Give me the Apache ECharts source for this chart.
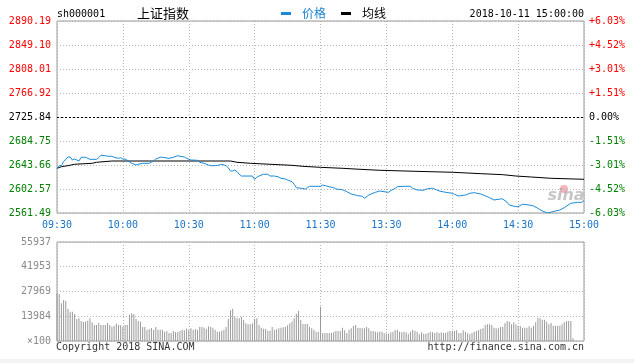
<!DOCTYPE html>
<html><head><meta charset="utf-8">
<script src="https://cdn.jsdelivr.net/npm/echarts@6.0.0/dist/echarts.min.js"></script>
<style>html,body{margin:0;padding:0;background:#fff}#c{width:634px;height:363px}</style>
</head><body><div id="c"></div>
<script>
const timeLabels = ['09:30','10:00','10:30','11:00','11:30','13:30','14:00','14:30','15:00'];
const priceTicks = [2561.49,2602.57,2643.66,2684.75,2725.84,2766.92,2808.01,2849.10,2890.19];
const pctLabels = ['-6.03%','-4.52%','-3.01%','-1.51%','0.00%','+1.51%','+3.01%','+4.52%','+6.03%'];
const preClose = 2725.84;
const volTicks = [0,13984,27969,41953,55937];
const volTickLabels = ['×100','13984','27969','41953','55937'];

const priceMinutes = [0,1,2,3,5,6,7,8,10,11,13,15,18,19,20,22,23,25,26,28,29,30,31,32,34,36,37,39,42,43,44,45,47,48,51,53,55,56,58,59,61,64,65,67,69,70,72,74,75,77,78,79,80,81,82,83,84,87,89,90,91,92,94,96,97,99,101,102,104,105,107,108,109,111,112,113,114,115,120,121,124,126,127,130,132,134,137,139,140,142,143,145,147,149,151,152,154,155,158,161,162,164,167,168,170,171,173,174,177,180,181,183,186,188,190,193,195,197,199,202,203,205,206,209,210,212,215,217,219,221,223,224,227,229,231,234,237,239,240];
const priceValues = [2636.8,2642.5,2642.5,2649.3,2657.4,2657.4,2652.2,2653.9,2650.5,2656.9,2656.9,2653.4,2653.4,2656.2,2660.3,2659.6,2658.6,2658.6,2656.9,2655.1,2656.2,2653.9,2653.9,2651.7,2646.6,2643.7,2644.9,2646.6,2646.6,2648.3,2650.5,2653.9,2656.9,2656.9,2655.1,2656.9,2659.6,2658.6,2657.4,2655.1,2652.2,2651.7,2648.3,2646.6,2643.7,2642.5,2642.5,2643.7,2644.9,2642.5,2639.1,2633.4,2633.4,2635.1,2632.2,2627.8,2624.8,2624.8,2624.8,2619.2,2622.6,2624.8,2627.8,2627.8,2624.8,2624.8,2623.1,2620.9,2619.7,2618.0,2615.1,2610.6,2604.8,2603.8,2603.8,2602.1,2604.8,2607.2,2607.2,2609.4,2606.5,2604.8,2602.6,2601.4,2598.0,2594.0,2591.1,2590.1,2586.7,2592.3,2594.0,2596.9,2599.2,2598.0,2596.9,2599.7,2603.8,2606.5,2607.2,2607.2,2603.8,2600.9,2600.4,2602.1,2603.8,2603.8,2600.9,2599.2,2596.9,2595.2,2593.5,2590.6,2592.3,2595.2,2596.3,2594.0,2591.1,2587.7,2583.8,2585.5,2585.5,2579.8,2575.2,2572.3,2572.3,2576.4,2575.2,2573.5,2569.5,2564.9,2562.0,2562.0,2564.9,2566.6,2570.6,2578.1,2579.8,2579.8,2582.9];

const avgMinutes = [0,2,5,8,16,18,25,79,82,88,97,107,112,120,130,138,147,163,180,193,203,209,216,225,240];
const avgValues = [2638.0,2640.8,2642.5,2644.9,2646.6,2648.3,2650.5,2650.5,2648.3,2646.6,2644.9,2643.1,2641.4,2639.7,2638.0,2636.3,2634.6,2632.9,2631.2,2628.8,2627.1,2624.8,2623.1,2620.9,2619.2];

const volumeValues = [27000,
26550,21280,23160,22600,18080,16570,16570,15250,12430,12800,11300,10730,10920,11490,12800,10540,9040,9040,10170,9040,
9040,9040,10170,9040,8100,8660,9790,9040,8850,8100,9040,9040,14880,15630,15250,12430,11300,10920,7910,7910,
6210,6780,7340,6210,7910,6400,6400,6400,5270,5650,4520,4520,5650,5080,5080,5650,6400,6030,6970,6400,
7160,6210,6780,6210,7910,7910,7530,6780,8290,7910,7530,6400,5270,5270,5650,6400,7910,12430,17320,18270,
13750,12800,12800,13750,11860,9980,9420,9420,9980,12430,12800,9040,7530,6970,6780,5840,5840,7910,6210,6590,
7160,7530,7720,7910,8850,9980,10920,12800,15440,16950,11860,9600,9600,9600,7910,7160,6400,5270,5080,
19400,4520,4520,4520,4520,4520,4900,5650,5650,5650,7530,6030,4520,6400,7160,8470,9040,7530,7340,7160,
7160,7910,7160,5650,5650,5270,4900,5270,5270,4520,4140,4140,4900,5270,6210,6210,5270,4900,5270,4900,
4140,5270,6400,5650,5270,3770,4900,4140,4140,4520,5270,4900,4520,4900,4520,4900,4520,4520,5270,5650,
5650,5650,6030,4520,4520,6030,5270,4330,3770,4520,5270,5650,6210,6780,7160,9040,9420,9420,9040,7530,
7160,7160,7910,7910,9980,11300,10920,9420,10540,9420,8470,8470,7530,7530,7530,8290,7530,8660,10540,13180,
12800,12050,12050,10920,9420,10170,8660,8660,8660,8660,9420,10540,11300,11300,11300,1500];

const MONO = "'DejaVu Sans Mono', 'Liberation Mono', monospace";
const RED = '#ff0000', GREEN = '#008000', BLUE_LBL = '#1a74c6', LINE_BLUE = '#1a8ad6';
const GRID_LINE = {show: true, lineStyle: {color: '#b4b4b4', type: [1, 2], width: 1}};

function priceColor(v) {
  const n = parseFloat(v);
  if (Math.abs(n - preClose) < 0.01) return '#000';
  return n > preClose ? RED : GREEN;
}
function nearestIdx(arr, v) {
  let b = 0;
  for (let i = 1; i < arr.length; i++) if (Math.abs(arr[i] - v) < Math.abs(arr[b] - v)) b = i;
  return b;
}

const chart = echarts.init(document.getElementById('c'), null, {renderer: 'canvas'});
chart.setOption({
  animation: false,
  backgroundColor: '#fff',
  grid: [
    {left: 57, top: 21, width: 527, height: 192, show: true, borderColor: '#999', borderWidth: 1, backgroundColor: 'transparent'},
    {left: 57, top: 242, width: 527, height: 99, show: true, borderColor: '#999', borderWidth: 1, backgroundColor: 'transparent'}
  ],
  xAxis: [
    {type: 'value', gridIndex: 0, min: 0, max: 240, interval: 30,
     axisLine: {show: false}, axisTick: {show: false},
     axisLabel: {color: BLUE_LBL, fontFamily: MONO, fontSize: 10, margin: 7,
       formatter: v => timeLabels[Math.round(v / 30)]},
     splitLine: GRID_LINE},
    {type: 'value', gridIndex: 1, min: 0, max: 240, interval: 30,
     axisLine: {show: false}, axisTick: {show: false}, axisLabel: {show: false},
     splitLine: GRID_LINE}
  ],
  yAxis: [
    {type: 'value', gridIndex: 0, min: priceTicks[0], max: priceTicks[priceTicks.length - 1],
     axisLine: {show: false}, axisTick: {show: false, customValues: priceTicks},
     axisLabel: {customValues: priceTicks, fontFamily: MONO, fontSize: 10, margin: 6,
       formatter: v => priceTicks[nearestIdx(priceTicks, v)].toFixed(2),
       color: v => priceColor(v)},
     splitLine: GRID_LINE},
    {type: 'value', gridIndex: 0, position: 'right', min: priceTicks[0], max: priceTicks[priceTicks.length - 1],
     axisLine: {show: false}, axisTick: {show: false, customValues: priceTicks},
     axisLabel: {customValues: priceTicks, fontFamily: MONO, fontSize: 10, margin: 5,
       formatter: v => pctLabels[nearestIdx(priceTicks, v)],
       color: v => priceColor(v)},
     splitLine: {show: false}},
    {type: 'value', gridIndex: 1, min: 0, max: volTicks[volTicks.length - 1],
     axisLine: {show: false}, axisTick: {show: false, customValues: volTicks},
     axisLabel: {customValues: volTicks, fontFamily: MONO, fontSize: 10, margin: 6, color: '#8a8a8a',
       formatter: v => volTickLabels[nearestIdx(volTicks, v)]},
     splitLine: GRID_LINE}
  ],
  series: [
    {name: '价格', type: 'line', xAxisIndex: 0, yAxisIndex: 0, showSymbol: false, symbol: 'none',
     data: priceMinutes.map((m, i) => [m, priceValues[i]]),
     lineStyle: {color: LINE_BLUE, width: 1}, z: 5,
     markLine: {silent: true, symbol: 'none', label: {show: false},
       lineStyle: {color: '#000', type: [2, 2], width: 1}, data: [{yAxis: preClose}]}},
    {name: '均线', type: 'line', xAxisIndex: 0, yAxisIndex: 0, showSymbol: false, symbol: 'none',
     data: avgMinutes.map((m, i) => [m, avgValues[i]]),
     lineStyle: {color: '#000', width: 1}, z: 4},
    {name: '成交量', type: 'bar', xAxisIndex: 1, yAxisIndex: 2, barWidth: 1,
     data: volumeValues.map((v, i) => [i, v]),
     itemStyle: {color: '#9a9a9a'}}
  ],
  graphic: [
    {type: 'rect', shape: {x: 0, y: 359, width: 634, height: 4}, style: {fill: '#f3f3f3'}, silent: true},
    {type: 'text', style: {x: 57, y: 14, text: 'sh000001', font: '10px ' + MONO, fill: '#000', align: 'left', verticalAlign: 'middle'}},
    {type: 'text', style: {x: 137, y: 13, text: '上证指数', font: '13px "Noto Sans CJK SC"', fill: '#000', align: 'left', verticalAlign: 'middle'}},
    {type: 'rect', shape: {x: 281, y: 12, width: 10, height: 3}, style: {fill: LINE_BLUE}},
    {type: 'text', style: {x: 302, y: 13, text: '价格', font: '12px "Noto Sans CJK SC"', fill: '#1a80d0', align: 'left', verticalAlign: 'middle'}},
    {type: 'rect', shape: {x: 341, y: 12, width: 10, height: 3}, style: {fill: '#000'}},
    {type: 'text', style: {x: 362, y: 13, text: '均线', font: '12px "Noto Sans CJK SC"', fill: '#000', align: 'left', verticalAlign: 'middle'}},
    {type: 'text', style: {x: 584, y: 14, text: '2018-10-11 15:00:00', font: '10px ' + MONO, fill: '#000', align: 'right', verticalAlign: 'middle'}},
    {type: 'text', style: {x: 56, y: 347, text: 'Copyright 2018 SINA.COM', font: '10px ' + MONO, fill: '#333', align: 'left', verticalAlign: 'middle'}},
    {type: 'text', style: {x: 584, y: 347, text: 'http://finance.sina.com.cn', font: '10px ' + MONO, fill: '#333', align: 'right', verticalAlign: 'middle'}},
    {type: 'circle', shape: {cx: 564, cy: 189, r: 4}, style: {fill: 'rgba(240,120,130,0.55)'}, silent: true},
    {type: 'text', style: {x: 566, y: 204, text: 'sina', font: 'italic bold 16px "DejaVu Sans"', fill: 'rgba(160,160,160,0.6)', align: 'center', verticalAlign: 'bottom'}, silent: true}
  ]
});
</script></body></html>
